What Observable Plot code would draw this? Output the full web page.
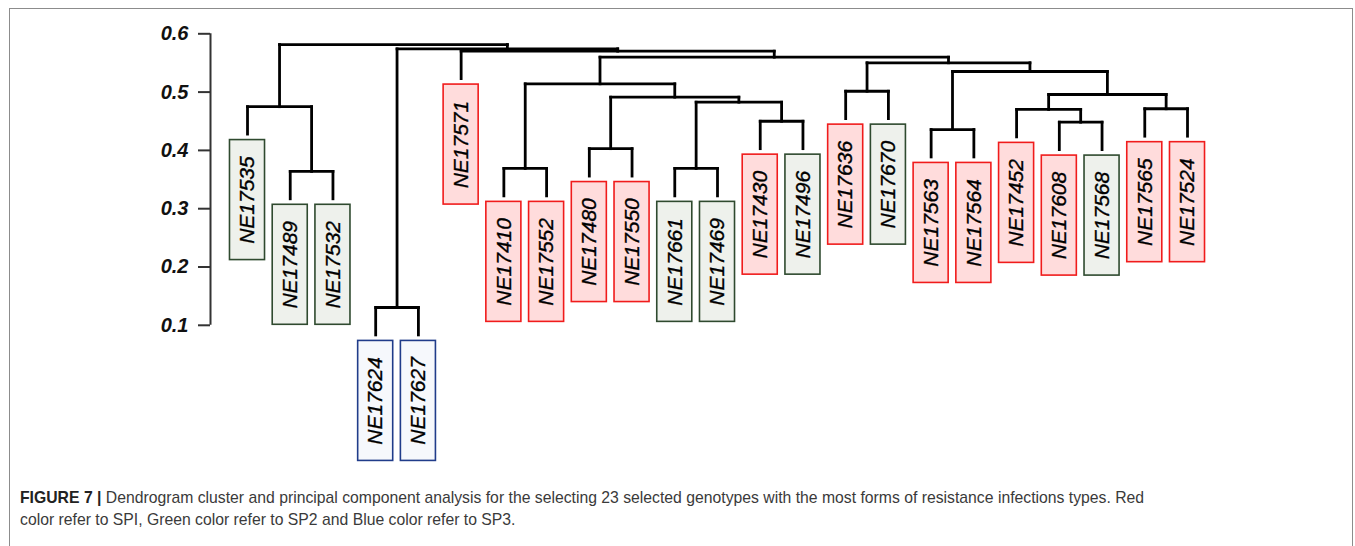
<!DOCTYPE html>
<html>
<head>
<meta charset="utf-8">
<script src="https://cdn.jsdelivr.net/npm/d3@7"></script>
<script src="https://cdn.jsdelivr.net/npm/@observablehq/plot@0.6"></script>
<style>
  html, body { margin: 0; padding: 0; background: #fff; overflow: hidden; }
  #wrap { position: relative; width: 1355px; height: 546px; }
  #frame { position: absolute; left: 8.5px; top: 7.5px; width: 1344px; height: 600px;
           border: 1.6px solid #8c8c8c; border-bottom: none; box-sizing: border-box; pointer-events: none; }
  #chart { position: absolute; left: 0; top: 0; }
  #caption { position: absolute; left: 20px; top: 487px; width: 1320px;
             font-family: "Liberation Sans", Arial, sans-serif; font-size: 15.75px; line-height: 22px; color: #3a3a3a; }
  #caption b { color: #222; }
</style>
</head>
<body>
<div id="wrap">
  <div id="chart"></div>
  <div id="caption"><b>FIGURE 7 |</b> Dendrogram cluster and principal component analysis for the selecting 23 selected genotypes with the most forms of resistance infections types. Red<br>color refer to SPI, Green color refer to SP2 and Blue color refer to SP3.</div>
  <div id="frame"></div>
</div>
<script>
// ---- data ----
const leaves = ["NE17535","NE17489","NE17532","NE17624","NE17627","NE17571","NE17410","NE17552",
  "NE17480","NE17550","NE17661","NE17469","NE17430","NE17496","NE17636","NE17670",
  "NE17563","NE17564","NE17452","NE17608","NE17568","NE17565","NE17524"];
const groups = ["SP2","SP2","SP2","SP3","SP3","SP1","SP1","SP1",
  "SP1","SP1","SP2","SP2","SP1","SP2","SP1","SP2",
  "SP1","SP1","SP1","SP1","SP2","SP1","SP1"];
// merges: [childA, childB, height]; child = leaf name or index of an earlier merge
const merges = [
  ["NE17489","NE17532",0.364],   // 0
  ["NE17535",0,0.475],           // 1
  ["NE17624","NE17627",0.1305],  // 2
  ["NE17410","NE17552",0.369],   // 3
  ["NE17480","NE17550",0.403],   // 4
  ["NE17661","NE17469",0.369],   // 5
  ["NE17430","NE17496",0.450],   // 6
  [5,6,0.4827],                  // 7
  [4,7,0.4913],                  // 8
  [3,8,0.5142],                  // 9
  ["NE17636","NE17670",0.5015],  // 10
  ["NE17563","NE17564",0.4358],  // 11
  ["NE17608","NE17568",0.4484],  // 12
  ["NE17452",12,0.4702],         // 13
  ["NE17565","NE17524",0.4714],  // 14
  [13,14,0.4959],                // 15
  [11,15,0.5353],                // 16
  [10,16,0.5503],                // 17
  [9,17,0.5599],                 // 18
  ["NE17571",18,0.5702],         // 19
  [2,19,0.5743],                 // 20
  [1,20,0.5816]                  // 21
];
const yTicks = [0.1, 0.2, 0.3, 0.4, 0.5, 0.6];
const hang = 0.047;

// ---- layout from data ----
const pxPerUnit = 583;
const boxGap = 6 / pxPerUnit, boxH = 120 / pxPerUnit, boxHalfW = 0.41;
const colors = {
  SP1: {fill: "#ffdcdc", stroke: "#f01c1c"},
  SP2: {fill: "#eef1ec", stroke: "#2f4a2f"},
  SP3: {fill: "#f6f8fc", stroke: "#203c8a"}
};
const nodeX = (c) => typeof c === "number" ? mx[c] : leaves.indexOf(c) + 1;
const mx = [];
merges.forEach((m, i) => { mx[i] = (nodeX(m[0]) + nodeX(m[1])) / 2; });
const segs = [];
const leafEnd = {};
merges.forEach((m, i) => {
  const h = m[2];
  segs.push({x1: nodeX(m[0]), y1: h, x2: nodeX(m[1]), y2: h});
  for (const c of [m[0], m[1]]) {
    const cx = nodeX(c);
    const cy = typeof c === "number" ? merges[c][2] : h - hang;
    if (typeof c !== "number") leafEnd[c] = cy;
    segs.push({x1: cx, y1: h, x2: cx, y2: cy});
  }
});
const leafData = leaves.map((name, i) => {
  const top = leafEnd[name] - boxGap;
  return {name, group: groups[i], x: i + 1, top, bottom: top - boxH, mid: top - boxH / 2};
});

const xDomain = [0.134, leaves.length];
const font = "'Liberation Sans', Arial, Helvetica, sans-serif";

const plot = Plot.plot({
  width: 1355, height: 470,
  marginLeft: 210, marginRight: 168, marginTop: 33.3, marginBottom: 470 - (33.3 + 0.6 * pxPerUnit),
  style: {fontFamily: font, color: "#111", background: "transparent", overflow: "visible"},
  x: {domain: xDomain, axis: null},
  y: {domain: [0, 0.6]},
  marks: [
    Plot.ruleX([xDomain[0]], {y1: yTicks[0], y2: yTicks[yTicks.length - 1], stroke: "#333", strokeWidth: 2}),
    Plot.axisY({ticks: yTicks, tickSize: 12, tickPadding: 10, tickFormat: d3.format(".1f"),
      fontSize: 20, fontWeight: "bold", fontStyle: "italic", label: null, stroke: "#333", strokeWidth: 2}),
    Plot.link(segs, {x1: "x1", y1: "y1", x2: "x2", y2: "y2", stroke: "#000", strokeWidth: 2.8, strokeLinecap: "square"}),
    Plot.rect(leafData, {x1: d => d.x - boxHalfW, x2: d => d.x + boxHalfW, y1: "bottom", y2: "top",
      fill: d => colors[d.group].fill, stroke: d => colors[d.group].stroke, strokeWidth: 1.6}),
    Plot.text(leafData, {x: "x", y: "mid", text: "name", rotate: -90, fontSize: 21, fontStyle: "italic",
      fill: "#000", stroke: "#000", strokeWidth: 0.35, fontFamily: font})
  ]
});
document.getElementById("chart").appendChild(plot);
</script>
</body>
</html>
